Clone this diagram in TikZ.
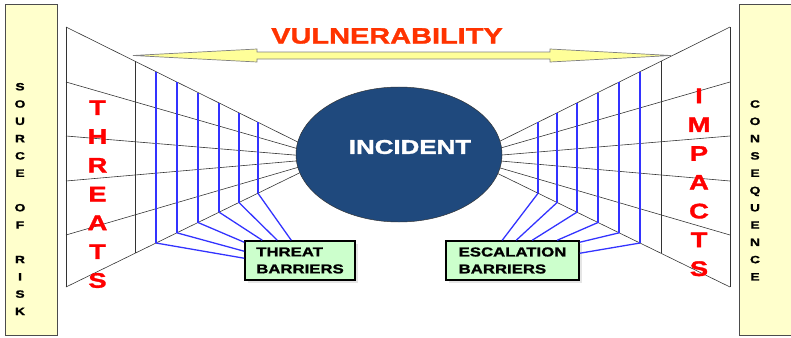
\documentclass[tikz,border=0pt]{standalone}
\usepackage{fontspec}
\newfontfamily\heavy[FakeStretch=1.3,BoldFeatures={FakeBold=1.5}]{Liberation Sans}
\usetikzlibrary{calc,shapes.geometric,shadows}

\definecolor{riskyellow}{HTML}{FFFFCC}
\definecolor{arrowyellow}{HTML}{FFFF99}
\definecolor{incblue}{HTML}{1F497D}
\definecolor{barriergreen}{HTML}{CCFFCC}
\definecolor{barrierblue}{HTML}{3333FF}
\definecolor{vulnred}{HTML}{FF3300}

\tikzset{
  fanline/.style={draw=black!80, line width=0.5pt},
  barrier/.style={draw=barrierblue, line width=1.1pt},
  sidebox/.style={draw=black!70, fill=riskyellow, line width=0.8pt},
  sidetext/.style={font=\heavy\bfseries\fontsize{9}{14.75}\selectfont, align=center, inner sep=0pt},
  bigtext/.style={font=\heavy\bfseries\fontsize{18}{24.58}\selectfont, text=red, align=center, inner sep=0pt},
  barrierbox/.style={draw=black, line width=1.3pt, fill=barriergreen, align=left,
    font=\heavy\bfseries\fontsize{11}{14.5}\selectfont, minimum height=1.17cm,
    drop shadow={opacity=0.2}}
}

\begin{document}
\begin{tikzpicture}[x=0.03cm, y=-0.03cm]
    \clip (0,0) rectangle (791,337);
    \fill[white] (0,0) rectangle (791,337);

    % Source and consequence columns
    \draw[sidebox] (5,4) rectangle (57,335);
    \draw[sidebox] (739,4) rectangle (800,335);
    \node[sidetext] (src) at (20,199) {S\\O\\U\\R\\C\\E\\~\\O\\F\\~\\R\\I\\S\\K};
    \node[sidetext] (cons) at (755,190.4) {C\\O\\N\\S\\E\\Q\\U\\E\\N\\C\\E};

    % Fans towards the incident
    \coordinate (fl) at (330,158);
    \coordinate (fr) at (466,158);
    \foreach \y [count=\i] in {27,82,136,181,235,287} {
        \coordinate (L\i) at (66,\y);
        \coordinate (R\i) at (730,\y);
        \draw[fanline] (L\i) -- (fl);
        \draw[fanline] (R\i) -- (fr);
    }
    \draw[fanline] (L1) -- (L6);
    \draw[fanline] (R1) -- (R6);
    \draw[fanline] ($(L1)!0.261!(fl)$) -- ($(L6)!0.261!(fl)$);
    \draw[fanline] ($(R1)!0.261!(fr)$) -- ($(R6)!0.261!(fr)$);

    % Barrier lines in the fans
    \foreach \t [count=\i] in {0.341,0.420,0.500,0.580,0.655,0.727} {
        \draw[barrier] ($(L1)!\t!(fl)$) -- ($(L6)!\t!(fl)$) coordinate (lb\i);
        \draw[barrier] ($(R1)!\t!(fr)$) -- ($(R6)!\t!(fr)$) coordinate (rb\i);
    }

    % Incident
    \node[ellipse, draw=black!80, fill=incblue, minimum width=6.18cm, minimum height=4.05cm, inner sep=0pt] (inc) at (399,154.5) {};
    \node[font=\heavy\bfseries\fontsize{17}{20}\selectfont, text=white] (inctext) at (410,147) {INCIDENT};

    % Barrier boxes
    \node[barrierbox, minimum width=3.3cm] (tb) at (300,260.5) {THREAT\\BARRIERS};
    \node[barrierbox, minimum width=3.99cm] (eb) at (512.5,260.5) {ESCALATION\\BARRIERS};

    \draw[barrier] (lb1) -- ($(tb.north west)+(0,18)$);
    \draw[barrier] (lb2) -- ($(tb.north west)+(0,11)$);
    \draw[barrier] (lb3) -- ($(tb.north west)+(0,2)$);
    \draw[barrier] (lb4) -- ($(tb.north west)+(18,0)$);
    \draw[barrier] (lb5) -- ($(tb.north west)+(33,0)$);
    \draw[barrier] (lb6) -- ($(tb.north west)+(47,0)$);

    \draw[barrier] (rb6) -- ($(eb.north west)+(57,0)$);
    \draw[barrier] (rb5) -- ($(eb.north west)+(71,0)$);
    \draw[barrier] (rb4) -- ($(eb.north west)+(87,0)$);
    \draw[barrier] (rb3) -- ($(eb.north west)+(112,0)$);
    \draw[barrier] (rb2) -- ($(eb.north east)+(0,2)$);
    \draw[barrier] (rb1) -- ($(eb.north east)+(0,13)$);

    % Vulnerability arrow
    \coordinate (vl) at (133,55.5);
    \coordinate (vr) at (671,55.5);
    \draw[fill=arrowyellow, draw=black!50, line width=0.6pt] (vl) -- (257,49) -- (257,52) -- (550,52) -- (550,49)
        -- (vr) -- (550,62) -- (550,59) -- (257,59) -- (257,62) -- cycle;
    \node[font=\heavy\bfseries\fontsize{19}{22}\selectfont, text=vulnred] (vuln) at (387,36) {VULNERABILITY};

    % Threats and impacts
    \node[bigtext] (thr) at (97.5,194.2) {T\\H\\R\\E\\A\\T\\S};
    \node[bigtext] (imp) at (699,182.4) {I\\M\\P\\A\\C\\T\\S};
\end{tikzpicture}
\end{document}
